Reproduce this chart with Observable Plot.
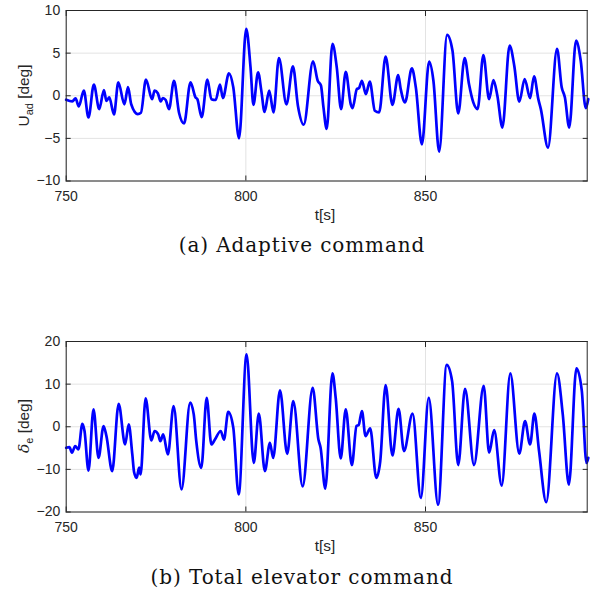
<!DOCTYPE html>
<html>
<head>
<meta charset="utf-8">
<script src="https://cdn.jsdelivr.net/npm/d3@7"></script>
<script src="https://cdn.jsdelivr.net/npm/@observablehq/plot@0.6"></script>
<style>
  html, body { margin: 0; padding: 0; background: white; }
  #wrap { position: relative; width: 596px; height: 593px; overflow: hidden; }
  .panel { position: absolute; left: 0; }
  .cap { position: absolute; left: 0; width: 604px; text-align: center; font-family: "DejaVu Serif", serif; font-size: 20px; letter-spacing: 0.9px; color: #111; }
</style>
</head>
<body>
<div id="wrap"></div>
<script>
// ---------- data ----------
const xTicks = [750, 800, 850];
const yTicksTop = [-10, -5, 0, 5, 10];
const yTicksBottom = [-20, -10, 0, 10, 20];

// (a) Adaptive command U_ad [deg]
const tTop = [750, 751.7, 752.6, 753.5, 754.9, 756.2, 757.7, 759.2, 760.5, 761.2, 762, 763.3, 764.5, 766.2, 767.2, 768.1, 769.9, 770.8, 772.2, 773.9, 774.6, 775.5, 776.3, 776.9, 777.7, 778.6, 780, 781.4, 782.8, 784.6, 786, 786.5, 787.7, 789.3, 790.4, 791.6, 792.8, 793.6, 795.3, 796.5, 798.1, 800.1, 801.3, 802.1, 803.4, 804.3, 805.2, 806.5, 807.7, 809.2, 811.3, 813.1, 814.5, 816.1, 818.7, 820, 820.9, 821.6, 822.5, 824.1, 825.3, 826.5, 827.8, 829.2, 829.7, 830.9, 831.5, 832.3, 833.4, 834.5, 835.9, 837.1, 838.9, 840.8, 842.4, 843.1, 844.3, 846.2, 847.3, 849, 851, 852.2, 853.8, 856, 857.5, 859.1, 860.9, 862.1, 863.3, 864.5, 866.1, 867.7, 868.9, 870, 871.4, 873.4, 874.7, 876.1, 877.6, 879.1, 880.2, 881.4, 882.1, 884.1, 886.6, 887.9, 888.8, 890, 891.9, 893.2, 894.6, 895.3];
const uTop = [-0.47, -0.67, -0.3, -1.25, 0.6, -2.55, 1.3, -1.57, 0.67, -0.6, -0.2, -2.2, 1.57, -1.0, 1.0, -1.0, -2.15, -2.0, 1.9, -0.4, 0.6, 0.3, -0.67, -0.27, -0.5, -1.57, 1.76, -2.0, -3.25, 1.57, -0.2, -0.4, -2.5, 1.9, -0.4, -0.5, 1.3, -0.27, 2.63, 1.0, -5.0, 7.84, 3.33, -1.06, 2.75, 0.6, -1.9, 0.6, -1.96, 4.43, -1.0, 3.45, -1.2, -3.4, 4.04, 1.76, 1.2, -1.37, -3.9, 6.08, 3.33, -1.57, 2.8, -1.0, -1.45, 0.78, 0.9, 1.76, 0.2, 1.65, -1.76, -1.96, 4.6, -1.06, 2.43, 0.78, -0.78, 3.2, 1.0, -5.7, 4.0, 1.76, -6.55, 7.14, 5.3, -2.08, 4.43, 1.37, -0.78, -1.57, 4.78, -0.4, 1.84, 0, -3.73, 5.88, 3.53, -0.7, 1.96, -0.27, 2.27, -0.4, -1.57, -6.08, 5.5, 1.0, -0.2, -3.73, 6.47, 4.1, -1.45, -0.4];

// (b) Total elevator command delta_e [deg]
const tBottom = [750, 750.9, 751.6, 752.5, 753.4, 754.5, 755.1, 756.2, 757.6, 759, 760.4, 761.2, 762.8, 764.6, 766.4, 767.4, 768.4, 768.9, 769.6, 770.3, 770.7, 772.1, 773.7, 774.6, 775.6, 776.2, 777, 778.3, 779.9, 782.1, 784.5, 785.5, 786.2, 787.6, 789.1, 790.4, 791.4, 793, 793.9, 795.1, 796.5, 798, 800.2, 802.2, 803.6, 805.3, 806.7, 807.6, 809.5, 811.5, 813.2, 815.8, 818.6, 820.2, 820.8, 822.1, 824.1, 825, 826.4, 827.8, 829.5, 830.8, 831.4, 832.3, 833.3, 834.6, 836.3, 837.4, 838.9, 840.8, 842.5, 844, 846.4, 848.7, 850.9, 853.5, 855.9, 857.4, 859.1, 861, 863.5, 866.2, 867.7, 869.1, 871.2, 873.6, 876.1, 877.7, 879.1, 880.3, 881.6, 883.6, 886.6, 888.2, 889.9, 892, 893.5, 894.8, 895.3];
const dBottom = [-4.94, -4.8, -6.1, -4.55, -5.3, 0.7, -1.0, -10.3, 4.1, -7.3, 0.16, -2.2, -10.4, 5.4, -4.16, 0.55, -6.5, -10.67, -12.0, -9.6, -11.2, 6.67, -3.2, -1.0, -1.8, -3.37, -1.8, -6.5, 4.86, -14.7, 5.65, 2.9, -3.37, -9.65, 6.8, -4.16, -3.0, -1.0, -3.0, 3.5, -0.2, -15.9, 17.0, -8.5, 3.06, -10.4, -3.76, -7.3, 8.55, -6.35, 6.0, -14.0, 9.1, -3.0, -4.9, -14.5, 12.5, 6.8, -7.45, 4.1, -9.0, 0.16, 0.4, 3.7, -2.2, -0.4, -12.0, -8.1, 9.8, -6.75, 4.2, -5.7, 3.06, -16.7, 6.8, -18.3, 14.5, 10.7, -9.0, 8.9, -9.0, 9.6, -6.1, -0.8, -13.8, 12.5, -6.3, 1.3, -4.16, 3.06, -5.7, -17.7, 12.5, 2.9, -13.6, 13.7, 8.4, -8.5, -7.3];

// ---------- drawing ----------
const axisColor = "#262626";
const gridColor = "#e3e3e3";

function panel(t, v, yDomain, yTicks, marginTop) {
  const data = t.map((x, i) => ({t: x, v: v[i]}));
  return Plot.plot({
    width: 596,
    height: marginTop + 170.5 + 50,
    marginLeft: 65.7,
    marginRight: 9.3,
    marginTop: marginTop,
    marginBottom: 50,
    style: {fontFamily: "'Liberation Sans', Arial, sans-serif", fontSize: "14px", color: axisColor, background: "white", overflow: "visible"},
    x: {domain: [750, 895]},
    y: {domain: yDomain},
    marks: [
      Plot.gridX(xTicks, {stroke: gridColor, strokeOpacity: 1, strokeWidth: 1}),
      Plot.gridY(yTicks, {stroke: gridColor, strokeOpacity: 1, strokeWidth: 1}),
      Plot.line(data, {x: "t", y: "v", stroke: "#0000ff", strokeWidth: 2.7, curve: "monotone-x"}),
      Plot.frame({stroke: axisColor, strokeWidth: 1}),
      Plot.axisX(xTicks, {anchor: "bottom", tickSize: -5, tickPadding: 15, label: null, stroke: axisColor, fill: axisColor}),
      Plot.axisX(xTicks, {anchor: "top", tickSize: -5, tickFormat: () => "", label: null, stroke: axisColor}),
      Plot.axisY(yTicks, {anchor: "left", tickSize: -5, tickPadding: 11, label: null, stroke: axisColor, fill: axisColor}),
      Plot.axisY(yTicks, {anchor: "right", tickSize: -5, tickFormat: () => "", label: null, stroke: axisColor})
    ]
  });
}

const wrap = document.getElementById("wrap");

function addLabels(svg, yLabelParts, yCenter, marginTop) {
  const s = d3.select(svg);
  s.append("text")
    .attr("x", 325).attr("y", marginTop + 170.5 + 39)
    .attr("text-anchor", "middle")
    .attr("font-family", "'Liberation Sans', Arial, sans-serif")
    .attr("font-size", 15.4).attr("fill", axisColor)
    .text("t[s]");
  const yl = s.append("text")
    .attr("transform", `translate(28.5,${yCenter}) rotate(-90)`)
    .attr("text-anchor", "middle")
    .attr("font-family", "'Liberation Sans', Arial, sans-serif")
    .attr("font-size", 15.4).attr("fill", axisColor);
  yLabelParts(yl);
}

const p1 = panel(tTop, uTop, [-10, 10], yTicksTop, 10);
p1.classList.add("panel");
p1.style.top = "0px";
addLabels(p1, (yl) => {
  yl.append("tspan").text("U");
  yl.append("tspan").attr("dy", 4).attr("font-size", 11).text("ad");
  yl.append("tspan").attr("dy", -4).text(" [deg]");
}, 95.5, 10);
wrap.appendChild(p1);

const cap1 = document.createElement("div");
cap1.className = "cap";
cap1.style.top = "233px";
cap1.textContent = "(a) Adaptive command";
wrap.appendChild(cap1);

const p2 = panel(tBottom, dBottom, [-20, 20], yTicksBottom, 10);
p2.classList.add("panel");
p2.style.top = "330.5px";
addLabels(p2, (yl) => {
  yl.append("tspan").attr("font-family", "'DejaVu Serif', serif").attr("font-style", "italic").text("δ");
  yl.append("tspan").attr("dy", 4).attr("font-size", 11).text("e");
  yl.append("tspan").attr("dy", -4).text(" [deg]");
}, 95, 10);
wrap.appendChild(p2);

const cap2 = document.createElement("div");
cap2.className = "cap";
cap2.style.top = "565px";
cap2.textContent = "(b) Total elevator command";
wrap.appendChild(cap2);
</script>
</body>
</html>
